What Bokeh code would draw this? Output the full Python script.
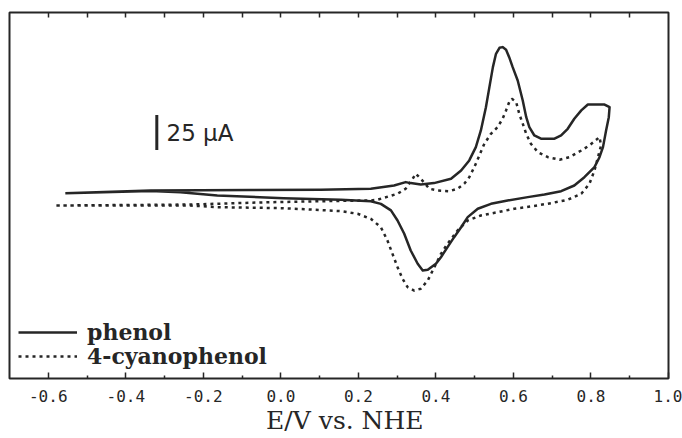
from bokeh.plotting import figure
from bokeh.models import Range1d, LinearAxis, FixedTicker, Legend, LegendItem, Label, PrintfTickFormatter
from bokeh.embed import file_html
from bokeh.resources import INLINE

# Cyclic voltammogram of phenol (solid) - potential E/V vs NHE, current in uA
phenol_E = [-0.556, -0.336, -0.078, 0.103, 0.232, 0.292, 0.322, 0.335, 0.361, 0.395,
            0.439, 0.465, 0.486, 0.503, 0.516, 0.529, 0.538, 0.547, 0.555, 0.564,
            0.572, 0.581, 0.589, 0.598, 0.611, 0.624, 0.633, 0.641, 0.654, 0.671,
            0.706, 0.723, 0.740, 0.757, 0.775, 0.792, 0.835, 0.848, 0.846, 0.839,
            0.831, 0.822, 0.809, 0.783, 0.757, 0.723, 0.680, 0.637, 0.585, 0.542,
            0.508, 0.482, 0.465, 0.447, 0.430, 0.413, 0.400, 0.379, 0.366, 0.353,
            0.335, 0.318, 0.301, 0.284, 0.258, 0.232, 0.155, 0.007, -0.164, -0.259,
            -0.336, -0.556]
phenol_I = [5.2, 7.1, 7.5, 7.6, 8.4, 10.7, 13.1, 12.4, 11.4, 12.4,
            15.5, 21.4, 28.6, 38.1, 50.0, 66.6, 80.9, 95.2, 104.7, 109.0,
            109.5, 107.6, 102.3, 95.2, 85.7, 71.4, 59.5, 52.3, 46.4, 44.1,
            44.1, 46.4, 51.2, 58.3, 64.3, 68.5, 68.5, 66.6, 59.5, 50.0,
            38.1, 30.9, 23.8, 16.6, 10.7, 6.6, 4.3, 2.4, 0.0, -2.4,
            -5.9, -11.9, -19.1, -26.2, -33.3, -40.5, -45.2, -49.5, -50.0, -45.2,
            -35.7, -23.6, -14.3, -7.1, -2.4, -0.5, 0.5, 1.6, 3.6, 5.9,
            6.8, 5.2]

# Cyclic voltammogram of 4-cyanophenol (dotted)
cyano_E = [-0.579, -0.233, -0.052, 0.129, 0.232, 0.249, 0.301, 0.322, 0.340, 0.348,
           0.361, 0.383, 0.404, 0.434, 0.456, 0.473, 0.486, 0.499, 0.512, 0.525,
           0.542, 0.559, 0.572, 0.581, 0.589, 0.596, 0.607, 0.615, 0.624, 0.633,
           0.645, 0.663, 0.689, 0.719, 0.744, 0.775, 0.796, 0.822, 0.826, 0.818,
           0.809, 0.796, 0.775, 0.740, 0.697, 0.645, 0.602, 0.559, 0.516, 0.482,
           0.456, 0.430, 0.413, 0.396, 0.379, 0.361, 0.344, 0.327, 0.314, 0.301,
           0.288, 0.275, 0.258, 0.232, 0.198, 0.155, 0.007, -0.164, -0.233, -0.579]
cyano_I = [-3.6, -2.9, -1.4, -0.4, 0.0, 0.5, 4.8, 8.4, 15.5, 19.1,
           15.5, 8.4, 7.1, 6.6, 8.4, 11.9, 16.6, 23.8, 32.1, 40.5,
           47.6, 52.3, 58.3, 64.3, 70.2, 72.6, 70.2, 61.9, 54.8, 47.6,
           40.5, 34.5, 30.9, 29.1, 30.9, 35.7, 39.3, 45.2, 39.3, 30.9,
           21.4, 11.9, 4.8, 0.5, -1.9, -4.3, -5.9, -8.4, -10.7, -14.3,
           -21.4, -30.9, -38.1, -47.6, -57.1, -63.0, -64.3, -61.9, -55.9, -47.6,
           -38.1, -28.6, -19.1, -13.1, -9.5, -7.6, -5.5, -4.8, -3.6, -3.6]

major_ticks = [-0.6, -0.4, -0.2, 0.0, 0.2, 0.4, 0.6, 0.8, 1.0]
minor_ticks = [-0.5, -0.3, -0.1, 0.1, 0.3, 0.5, 0.7, 0.9]
top_ticks = [-0.6, -0.5, -0.4, -0.3, -0.2, -0.1, 0.0, 0.1, 0.2, 0.3, 0.4, 0.5, 0.6, 0.7, 0.8, 0.9]

series_labels = ["phenol", "4-cyanophenol"]
x_label = "E/V vs. NHE"

scale_E = -0.32
scale_I0 = 36.0
scale_len = 25.0
scale_text = "25 µA"

INK = "#262626"

p = figure(width=682, height=438, x_range=Range1d(-0.7, 1.0), y_range=Range1d(-127.1, 134.2),
           output_backend="svg", toolbar_location=None, y_axis_location=None,
           min_border_left=9, min_border_right=14, min_border_top=12, min_border_bottom=60)
p.grid.visible = False
p.background_fill_color = "white"
p.border_fill_color = "white"
p.outline_line_color = INK
p.outline_line_width = 2
p.outline_line_alpha = 1

ax = p.xaxis[0]
ax.ticker = FixedTicker(ticks=major_ticks, minor_ticks=minor_ticks)
ax.formatter = PrintfTickFormatter(format="%.1f")
ax.axis_line_color = None
ax.major_tick_in = 6
ax.major_tick_out = 0
ax.minor_tick_in = 3
ax.minor_tick_out = 0
ax.major_tick_line_color = INK
ax.major_tick_line_width = 1.5
ax.minor_tick_line_color = INK
ax.minor_tick_line_width = 1.5
ax.major_label_standoff = 11
ax.major_label_text_font = "DejaVu Sans Mono"
ax.major_label_text_font_size = "16px"
ax.major_label_text_color = INK

top = LinearAxis(ticker=FixedTicker(ticks=top_ticks, minor_ticks=[]),
                 major_tick_in=5, major_tick_out=0, minor_tick_in=0, minor_tick_out=0,
                 major_tick_line_color=INK, major_tick_line_width=1.5,
                 axis_line_color=None, major_label_text_font_size="0px",
                 major_label_text_alpha=0, major_label_standoff=0)
p.add_layout(top, "above")

r1 = p.line(phenol_E, phenol_I, line_color=INK, line_width=2.5, line_join="round")
r2 = p.line(cyano_E, cyano_I, line_color=INK, line_width=2.5, line_dash="3 4")

p.segment(x0=[scale_E], y0=[scale_I0], x1=[scale_E], y1=[scale_I0 + scale_len],
          line_color=INK, line_width=3)
p.add_layout(Label(x=scale_E + 0.025, y=scale_I0 + scale_len / 2, text=scale_text,
                   text_baseline="middle", text_font="DejaVu Sans", text_font_size="23px",
                   text_color=INK))

# axis title in the panel under the tick labels
p.add_layout(Label(x=0.165, y=13, x_units="data", y_units="screen", text=x_label,
                   text_align="center", text_baseline="alphabetic",
                   text_font="DejaVu Serif", text_font_size="25px", text_color=INK), "below")

legend_style = dict(orientation="vertical", glyph_width=59, glyph_height=20,
                    label_standoff=10, padding=0, margin=0, spacing=0,
                    border_line_color=None, background_fill_alpha=0,
                    label_text_font="DejaVu Serif", label_text_font_size="22px",
                    label_text_font_style="bold", label_text_color=INK, label_height=20)
p.add_layout(Legend(items=[LegendItem(label=series_labels[0], renderers=[r1])],
                    location=(9, 33), **legend_style))
p.add_layout(Legend(items=[LegendItem(label=series_labels[1], renderers=[r2])],
                    location=(9, 9), **legend_style))

open("out.html", "w").write(file_html(p, INLINE))
